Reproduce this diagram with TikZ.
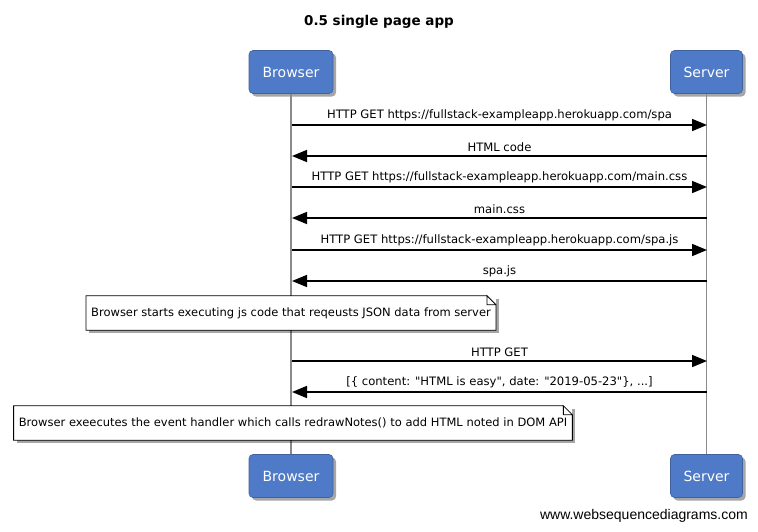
\documentclass[tikz,border=0pt]{standalone}
\usepackage{fontspec}
\setmainfont{DejaVu Sans}[Ligatures=TeXOff]
\newfontfamily\wmfont{Liberation Sans}
\usetikzlibrary{arrows.meta,shadows}
\definecolor{actorblue}{HTML}{4F7AC7}
\definecolor{lifegray}{HTML}{8A8A8A}
\tikzset{
  actor/.style={draw=actorblue!80!black, fill=actorblue, rounded corners=4pt, minimum width=84pt, minimum height=43pt, text=white, font=\fontsize{14}{17}\selectfont, line width=0.6pt,
    drop shadow={shadow xshift=3pt, shadow yshift=-3pt, opacity=0.35, fill=black}},
  lifeline/.style={draw=lifegray, line width=1.5pt},
  msg/.style={line width=1.6pt, -{Triangle[length=15pt,width=12pt]}},
  msglabel/.style={font=\fontsize{11.6}{14}\selectfont, inner sep=0pt},
  notebox/.style={fill=white, minimum height=34pt, inner xsep=5pt, font=\fontsize{11.5}{14}\selectfont,
    drop shadow={shadow xshift=3pt, shadow yshift=-3pt, opacity=0.35, fill=black}},
}
\begin{document}
\begin{tikzpicture}[x=1pt,y=-1pt]
\useasboundingbox (0,0) rectangle (758,531);
\node[font=\bfseries\fontsize{13.5}{16}\selectfont] (title) at (379,22) {0.5 single page app};
% actors
\node[actor] (bt) at (291,72) {Browser};
\node[actor, minimum width=72pt] (st) at (706.5,72) {Server};
\node[actor] (bb) at (291,476) {Browser};
\node[actor, minimum width=72pt] (sb) at (706.5,476) {Server};
\draw[lifeline] (bt.south) -- (bb.north);
\draw[lifeline] (st.south) -- (sb.north);
% message coordinates
\foreach \i/\yy in {1/125,2/156,3/187,4/218,5/250,6/281,7/361,8/392} {
  \coordinate (b\i) at (292,\yy);
  \coordinate (s\i) at (707,\yy);
}
\draw[msg] (b1) -- node[msglabel, above=3.5pt] (l1) {HTTP GET https://fullstack-exampleapp.herokuapp.com/spa} (s1);
\draw[msg] (s2) -- node[msglabel, above=3.5pt] (l2) {HTML code} (b2);
\draw[msg] (b3) -- node[msglabel, above=3.5pt] (l3) {HTTP GET https://fullstack-exampleapp.herokuapp.com/main.css} (s3);
\draw[msg] (s4) -- node[msglabel, above=3.5pt] (l4) {main.css} (b4);
\draw[msg] (b5) -- node[msglabel, above=3.5pt] (l5) {HTTP GET https://fullstack-exampleapp.herokuapp.com/spa.js} (s5);
\draw[msg] (s6) -- node[msglabel, above=3.5pt] (l6) {spa.js} (b6);
\draw[msg] (b7) -- node[msglabel, above=3.5pt] (l7) {HTTP GET} (s7);
\draw[msg] (s8) -- node[msglabel, above=3.5pt] (l8) {[\{ content: "HTML is easy", date: "2019-05-23"\}, ...]} (b8);
% notes
\node[notebox] (n1) at (291,313) {Browser starts executing js code that reqeusts JSON data from server};
\draw[line width=0.8pt] ([xshift=-9pt]n1.north east) -- (n1.north west) -- (n1.south west) -- (n1.south east) -- ([yshift=-9pt]n1.north east) -- ([xshift=-9pt]n1.north east) -- ([xshift=-9pt,yshift=-9pt]n1.north east) -- ([yshift=-9pt]n1.north east);
\node[notebox] (n2) at (293,423) {Browser exeecutes the event handler which calls redrawNotes() to add HTML noted in DOM API};
\draw[line width=0.8pt] ([xshift=-9pt]n2.north east) -- (n2.north west) -- (n2.south west) -- (n2.south east) -- ([yshift=-9pt]n2.north east) -- ([xshift=-9pt]n2.north east) -- ([xshift=-9pt,yshift=-9pt]n2.north east) -- ([yshift=-9pt]n2.north east);
\node[font=\wmfont\fontsize{14}{16}\selectfont, anchor=east, inner sep=0pt] (wm) at (748,516) {www.websequencediagrams.com};
\end{tikzpicture}
\end{document}
